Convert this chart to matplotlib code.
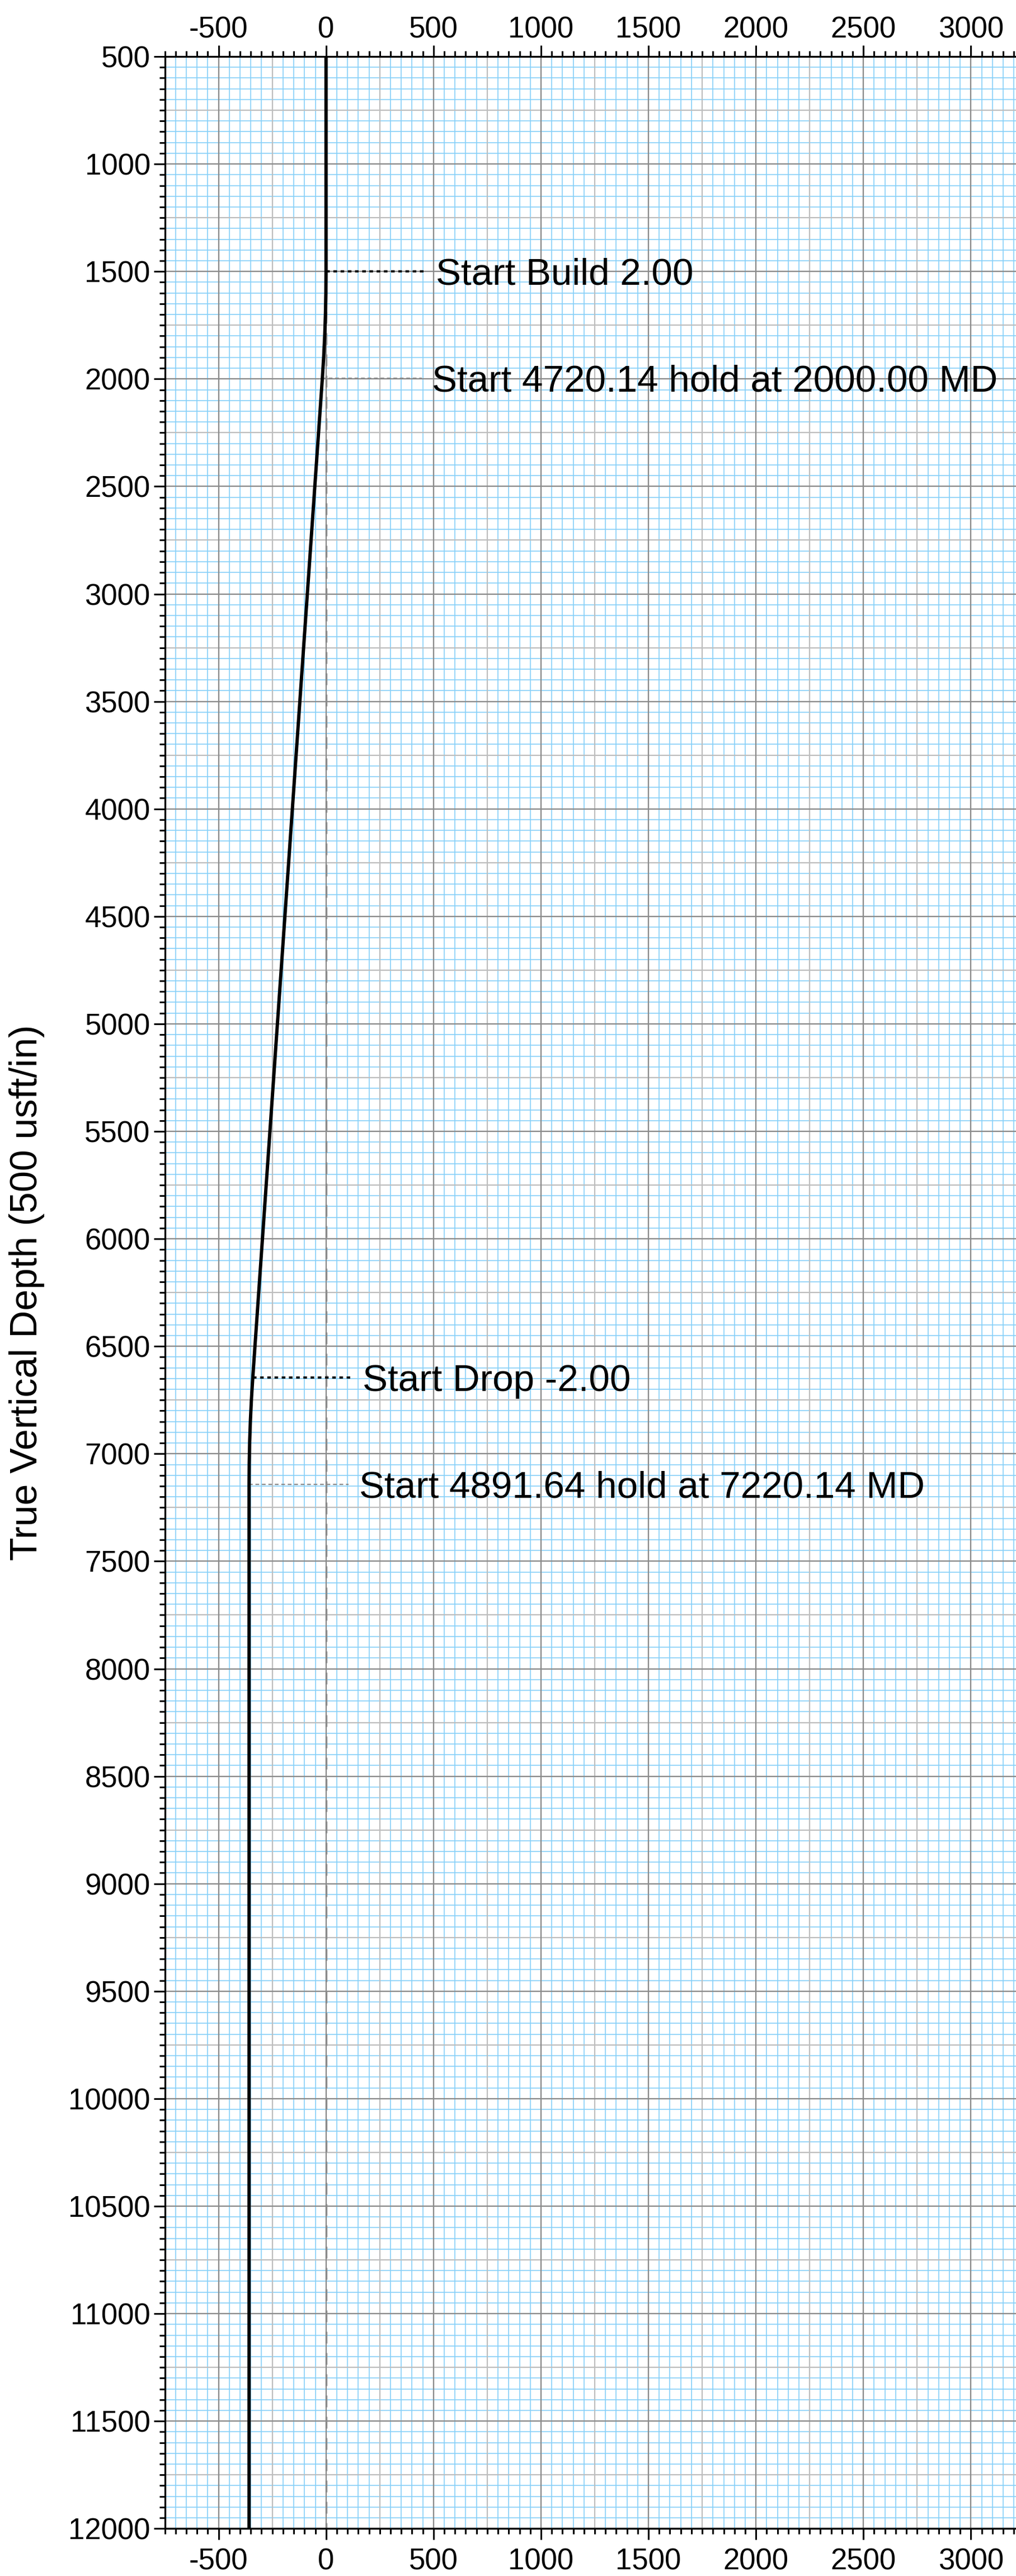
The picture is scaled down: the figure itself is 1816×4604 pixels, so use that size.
import matplotlib
matplotlib.use("Agg")
import matplotlib.pyplot as plt
import numpy as np
from matplotlib.ticker import MultipleLocator

plt.rcParams['font.family'] = ['Liberation Sans', 'DejaVu Sans']
plt.rcParams['axes.unicode_minus'] = False

# ---- data: well path (vertical section vs TVD) ----
tvd = [500, 1500, 1599.98, 1699.84, 1799.45, 1898.71, 1997.47,
       6645.90, 6744.66, 6843.92, 6943.53, 7043.39, 7143.37, 12035.01]
vsec = [0, 0, -0.69, -2.76, -6.19, -11.01, -17.18,
        -340.8, -346.97, -351.79, -355.23, -357.29, -358.0, -358.0]

ann_tvd = [1500, 1997.47, 6645.90, 7143.37]
ann_vs = [0, -17.18, -340.8, -358.0]
ann_text = ["Start Build 2.00",
            "Start 4720.14 hold at 2000.00 MD",
            "Start Drop -2.00",
            "Start 4891.64 hold at 7220.14 MD"]
ann_style = ["dot", "dash", "dot", "dash"]

x_min, x_max = -750, 3210
y_top, y_bot = 500, 12000

W, H = 1816, 4604
fig = plt.figure(figsize=(W / 100, H / 100), dpi=100)
left = 294.6 / W
bottom = (H - 4519.3) / H
height = (4519.3 - 101.0) / H
width = (x_max - x_min) / 500 * 192.1 / W
ax = fig.add_axes([left, bottom, width, height])
ax.set_xlim(x_min, x_max)
ax.set_ylim(y_bot, y_top)

# ---- grid ----
xs = np.arange(x_min, x_max + 1, 50)
ys = np.arange(y_top, y_bot + 1, 50)
ax.vlines(xs, y_top, y_bot, colors='#86D0F8', lw=1.2, zorder=0.5)
ax.hlines(ys, x_min, x_max, colors='#86D0F8', lw=1.2, zorder=0.5)
xs250 = np.arange(-750, x_max + 1, 250)
ys250 = np.arange(750, y_bot + 1, 250)
ax.vlines(xs250, y_top, y_bot, colors='#BDBDBD', lw=1.6, zorder=0.6)
ax.hlines(ys250, x_min, x_max, colors='#BDBDBD', lw=1.6, zorder=0.6)
xs500 = np.arange(-500, x_max + 1, 500)
ys500 = np.arange(500, y_bot + 1, 500)
ax.vlines(xs500, y_top, y_bot, colors='#8A8A8A', lw=1.6, zorder=0.7)
ax.hlines(ys500, x_min, x_max, colors='#8A8A8A', lw=1.6, zorder=0.7)

# zero reference line
ax.plot([0, 0], [y_top, y_bot], color='#8A8A8A', lw=2.4,
        linestyle=(0, (6.3, 5.1)), zorder=1)

# ---- annotations ----
for t, v, txt, st in zip(ann_tvd, ann_vs, ann_text, ann_style):
    if st == "dot":
        ax.plot([v, v + 462], [t, t], color='black', lw=2.9,
                linestyle=(0, (1.6, 1.6)), zorder=2)
    else:
        ax.plot([v, v + 462], [t, t], color='#8A8A8A', lw=1.6,
                linestyle=(0, (3.0, 2.2)), zorder=2)
    ax.text(v + 511, t + 61, txt, fontsize=48.5, va='baseline', ha='left',
            color='black', zorder=4)

# ---- well path ----
ax.plot(vsec, tvd, color='black', lw=4.3, zorder=3, solid_capstyle='butt')

# ---- axes / ticks ----
ax.xaxis.set_major_locator(MultipleLocator(500))
ax.xaxis.set_minor_locator(MultipleLocator(50))
ax.yaxis.set_major_locator(MultipleLocator(500))
ax.yaxis.set_minor_locator(MultipleLocator(50))
ax.tick_params(which='both', direction='out', width=2.2, colors='black')
ax.tick_params(which='major', length=14.4, labelsize=38)
ax.tick_params(which='minor', length=7.2)
ax.tick_params(axis='x', which='both', top=True, bottom=True,
               labeltop=True, labelbottom=True, pad=10.0)
ax.tick_params(axis='y', which='both', left=True, right=False, pad=4.3)
for s in ['left', 'bottom', 'top']:
    ax.spines[s].set_linewidth(2.4)
ax.spines['right'].set_visible(False)

ax.set_ylabel("True Vertical Depth (500 usft/in)", fontsize=49, labelpad=30)

fig.canvas.draw()
for tk in ax.xaxis.get_major_ticks():
    tk.label2.set_verticalalignment('baseline')

fig.savefig("out.png", dpi=100)
